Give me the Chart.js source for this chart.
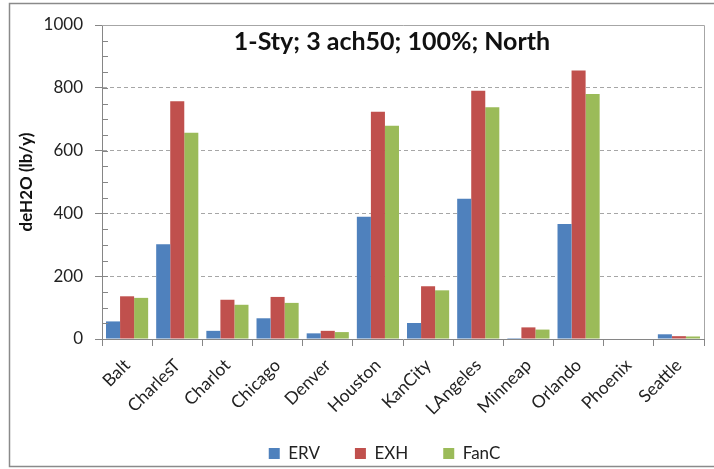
<!DOCTYPE html>
<html>
<head>
<meta charset="utf-8">
<script src="https://cdn.jsdelivr.net/npm/chart.js@4/dist/chart.umd.min.js"></script>
<style>
  html, body { margin: 0; padding: 0; background: #fff; }
  #wrap { position: relative; width: 714px; height: 469px; }
</style>
</head>
<body>
<div id="wrap"><canvas id="chart" width="714" height="469"></canvas></div>
<script>
const categories = ["Balt", "CharlesT", "Charlot", "Chicago", "Denver", "Houston", "KanCity", "LAngeles", "Minneap", "Orlando", "Phoenix", "Seattle"];
const ervValues = [56, 302, 26, 66, 18, 389, 51, 447, 3, 366, 0, 15];
const exhValues = [136, 757, 125, 134, 26, 724, 168, 791, 37, 855, 0, 9];
const fancValues = [131, 657, 109, 115, 22, 679, 155, 738, 30, 780, 0, 8];
const seriesNames = ["ERV", "EXH", "FanC"];
const chartTitle = "1-Sty; 3 ach50; 100%; North";
const yTitle = "deH2O (lb/y)";

const FONT = "Lato, 'Open Sans', sans-serif";

// frame, plot border, minor ticks and the titles drawn inside the plot
const extras = {
    id: "extras",
    afterLayout(chart) {
        // let the slanted category names run past the axis box instead of being clipped
        chart.scales.x.bottom = chart.height;
    },
    beforeDraw(chart) {
        const ctx = chart.ctx;
        ctx.save();
        ctx.fillStyle = "#fff";
        ctx.fillRect(0, 0, chart.width, chart.height);
        ctx.strokeStyle = "#8a8a8a";
        ctx.lineWidth = 1.5;
        ctx.strokeRect(9.5, 3.5, chart.width + 10, chart.height - 6);
        ctx.restore();
    },
    afterDraw(chart) {
        const { ctx, chartArea: a, scales: { y } } = chart;
        ctx.save();
        ctx.strokeStyle = "#a6a6a6";
        ctx.lineWidth = 1;
        ctx.beginPath();
        ctx.moveTo(a.left, a.top + 0.5);
        ctx.lineTo(a.right + 0.5, a.top + 0.5);
        ctx.lineTo(a.right + 0.5, a.bottom);
        ctx.stroke();

        ctx.strokeStyle = "#868686";
        ctx.beginPath();
        for (let v = 50; v < 1000; v += 50) {
            const py = Math.round(y.getPixelForValue(v)) + 0.5;
            ctx.moveTo(a.left, py);
            ctx.lineTo(a.left + 6, py);
        }
        ctx.stroke();

        ctx.fillStyle = "#111";
        ctx.textAlign = "center";
        ctx.textBaseline = "middle";
        ctx.font = "bold 25px " + FONT;
        ctx.fillText(chartTitle, a.left + 290, a.top + 17);

        ctx.translate(27, (a.top + a.bottom) / 2);
        ctx.rotate(-Math.PI / 2);
        ctx.font = "bold 17px " + FONT;
        ctx.fillText(yTitle, 0, 0);
        ctx.restore();
    }
};

new Chart(document.getElementById("chart"), {
    type: "bar",
    data: {
        labels: categories,
        datasets: [
            { label: seriesNames[0], data: ervValues, backgroundColor: "#4f81bd" },
            { label: seriesNames[1], data: exhValues, backgroundColor: "#c0504d" },
            { label: seriesNames[2], data: fancValues, backgroundColor: "#9bbb59" }
        ]
    },
    options: {
        responsive: false,
        animation: false,
        layout: { padding: { left: 43, right: -12, top: 25, bottom: -3 } },
        datasets: { bar: { categoryPercentage: 0.84, barPercentage: 1 } },
        plugins: {
            legend: {
                position: "bottom",
                labels: {
                    boxWidth: 11,
                    boxHeight: 11,
                    padding: 35,
                    color: "#222",
                    font: { family: FONT, size: 17 }
                }
            },
            tooltip: { enabled: false }
        },
        scales: {
            x: {
                afterFit: s => { s.height = 71; },
                grid: { drawOnChartArea: false, tickColor: "#868686", tickLength: 7 },
                border: { color: "#868686" },
                ticks: { minRotation: 45, maxRotation: 45, padding: 9, color: "#222", font: { family: FONT, size: 17.5 } }
            },
            y: {
                min: 0,
                max: 1000,
                afterFit: s => { s.width = 59; },
                grid: {
                    color: c => (c.tick.value > 0 && c.tick.value < 1000) ? "#a6a6a6" : "rgba(0,0,0,0)",
                    tickColor: "#868686",
                    tickLength: 7
                },
                border: { color: "#868686", dash: [4, 3] },
                ticks: { stepSize: 200, padding: 12, color: "#222", font: { family: FONT, size: 17 }, callback: v => String(v) }
            },
            // empty right-hand gap so the plot ends where the reference does
            yRight: {
                position: "right",
                afterFit: s => { s.width = 22; },
                grid: { display: false },
                border: { display: false },
                ticks: { display: false }
            }
        }
    },
    plugins: [extras]
});
</script>
</body>
</html>
